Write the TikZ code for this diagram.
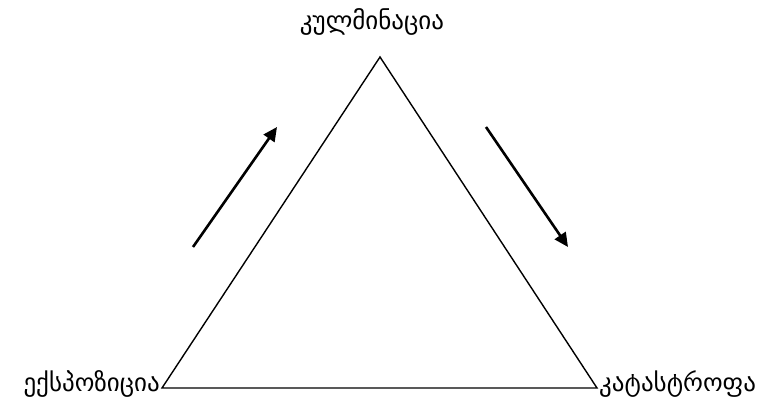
\documentclass[tikz,border=0pt]{standalone}
\usepackage{fontspec}
\newfontfamily\geo{DejaVu Sans}
\usetikzlibrary{arrows.meta}
\begin{document}
\begin{tikzpicture}[x=1pt,y=-1pt,
  lbl/.style={font=\geo\fontsize{25}{30}\selectfont, inner sep=0pt},
  tri/.style={line width=1.4pt},
  flow/.style={line width=2.6pt,-{Triangle[length=14pt,width=13pt]}}]
\useasboundingbox (0,0) rectangle (759,403);
\coordinate (apex) at (380,57);
\coordinate (bl) at (162,388);
\coordinate (br) at (597,388);
\draw[tri] (apex) -- (bl) -- (br) -- cycle;
\node[lbl] (top) at (372,22) {კულმინაცია};
\node[lbl,anchor=east] (left) at (160,384) {ექსპოზიცია};
\node[lbl,anchor=west] (right) at (599,384) {კატასტროფა};
\coordinate (a1) at (193,247);
\coordinate (a2) at (277,127);
\coordinate (b1) at (486,127);
\coordinate (b2) at (568,247);
\draw[flow] (a1) -- (a2);
\draw[flow] (b1) -- (b2);
\end{tikzpicture}
\end{document}
